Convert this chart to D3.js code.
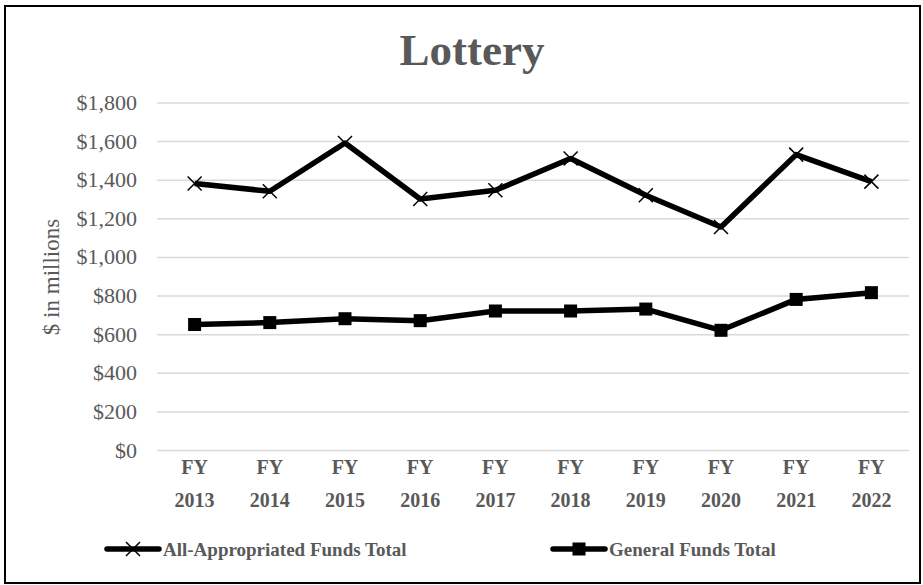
<!DOCTYPE html>
<html>
<head>
<meta charset="utf-8">
<script src="https://cdn.jsdelivr.net/npm/d3@7"></script>
<style>
	body { margin: 0; background: #fff; }
	svg text { font-family: 'Liberation Serif', 'Times New Roman', serif; fill: #595959; }
	.gridline line { stroke: #d9d9d9; stroke-width: 1.5; }
</style>
</head>
<body>
<div id="chart"></div>
<script>
// DATA
const years = ['2013', '2014', '2015', '2016', '2017', '2018', '2019', '2020', '2021', '2022'];
const allAppropriated = [1380, 1340, 1590, 1300, 1345, 1510, 1320, 1155, 1530, 1390];
const generalFunds = [650, 660, 680, 670, 720, 720, 730, 620, 780, 815];
const yTickValues = [0, 200, 400, 600, 800, 1000, 1200, 1400, 1600, 1800];
const seriesNames = ['All-Appropriated Funds Total', 'General Funds Total'];

// SETUP
const width = 923, height = 585;
const margin = { top: 102.5, right: 14, bottom: 135, left: 157 };
const serif = "'Liberation Serif', 'Times New Roman', serif";

const svg = d3.select('#chart')
	.append('svg')
	.attr('width', width)
	.attr('height', height);

// outer border
svg.append('rect')
	.attr('x', 5).attr('y', 6)
	.attr('width', 915).attr('height', 577)
	.attr('fill', 'none')
	.attr('stroke', '#000')
	.attr('stroke-width', 2);

const xScale = d3.scaleBand()
	.domain(years)
	.range([margin.left, width - margin.right])
	.padding(0);

const yScale = d3.scaleLinear()
	.domain([0, 1800])
	.range([height - margin.bottom, margin.top]);

const cx = d => xScale(d) + xScale.bandwidth() / 2;

// title
svg.append('text')
	.attr('x', 472)
	.attr('y', 65)
	.attr('text-anchor', 'middle')
	.style('font-size', '45px')
	.style('font-weight', 'bold')
	.text('Lottery');

// gridlines
svg.append('g')
	.attr('class', 'gridline')
	.attr('transform', `translate(${margin.left},0)`)
	.call(d3.axisLeft(yScale)
		.tickValues(yTickValues)
		.tickSize(-(width - margin.left - margin.right))
		.tickFormat('')
	)
	.call(g => g.select('.domain').remove());

// y axis labels
svg.append('g')
	.attr('transform', `translate(${margin.left},0)`)
	.attr('font-family', serif)
	.call(d3.axisLeft(yScale)
		.tickValues(yTickValues)
		.tickSize(0)
		.tickPadding(20)
		.tickFormat(d => '$' + d3.format(',')(d))
	)
	.call(g => g.select('.domain').remove())
	.call(g => g.selectAll('text')
		.style('font-family', serif)
		.style('font-size', '22px')
		.style('fill', '#595959'));

// y axis title
svg.append('text')
	.attr('transform', 'translate(59,277) rotate(-90)')
	.attr('text-anchor', 'middle')
	.style('font-size', '23px')
	.text('$ in millions');

// x axis labels (two lines)
const xLabels = svg.append('g')
	.selectAll('text')
	.data(years)
	.join('text')
	.attr('text-anchor', 'middle')
	.style('font-size', '20px')
	.style('font-weight', 'bold');
xLabels.append('tspan')
	.attr('x', cx)
	.attr('y', 474)
	.text('FY');
xLabels.append('tspan')
	.attr('x', cx)
	.attr('y', 507)
	.text(d => d);

// lines
const line = d3.line()
	.x((d, i) => cx(years[i]))
	.y(d => yScale(d));

const drawSeries = (values, marker) => {
	svg.append('path')
		.datum(values)
		.attr('fill', 'none')
		.attr('stroke', '#000')
		.attr('stroke-width', 5.5)
		.attr('stroke-linejoin', 'round')
		.attr('d', line);

	const pts = svg.append('g')
		.selectAll('g')
		.data(values)
		.join('g')
		.attr('transform', (d, i) => `translate(${cx(years[i])},${yScale(d)})`);

	if (marker === 'x') {
		pts.append('path')
			.attr('d', 'M-7,-7L7,7M-7,7L7,-7')
			.attr('stroke', '#000')
			.attr('stroke-width', 1.5);
	} else {
		pts.append('rect')
			.attr('x', -6.5).attr('y', -6.5)
			.attr('width', 13).attr('height', 13)
			.attr('fill', '#000');
	}
};

drawSeries(allAppropriated, 'x');
drawSeries(generalFunds, 'square');

// legend
const legendItems = [
	{ name: seriesNames[0], marker: 'x', x: 107 },
	{ name: seriesNames[1], marker: 'square', x: 553 }
];
const legendY = 549;
const legend = svg.append('g')
	.selectAll('g')
	.data(legendItems)
	.join('g')
	.attr('transform', d => `translate(${d.x},${legendY})`);

legend.append('line')
	.attr('x1', 0).attr('x2', 52)
	.attr('stroke', '#000')
	.attr('stroke-width', 5.5)
	.attr('stroke-linecap', 'round');

legend.each(function(d) {
	const g = d3.select(this);
	if (d.marker === 'x') {
		g.append('path')
			.attr('d', 'M19,-7L33,7M19,7L33,-7')
			.attr('stroke', '#000')
			.attr('stroke-width', 1.5);
	} else {
		g.append('rect')
			.attr('x', 19.5).attr('y', -6.5)
			.attr('width', 13).attr('height', 13)
			.attr('fill', '#000');
	}
});

legend.append('text')
	.attr('x', 56)
	.attr('y', 7)
	.style('font-size', '19px')
	.style('font-weight', 'bold')
	.text(d => d.name);
</script>
</body>
</html>
